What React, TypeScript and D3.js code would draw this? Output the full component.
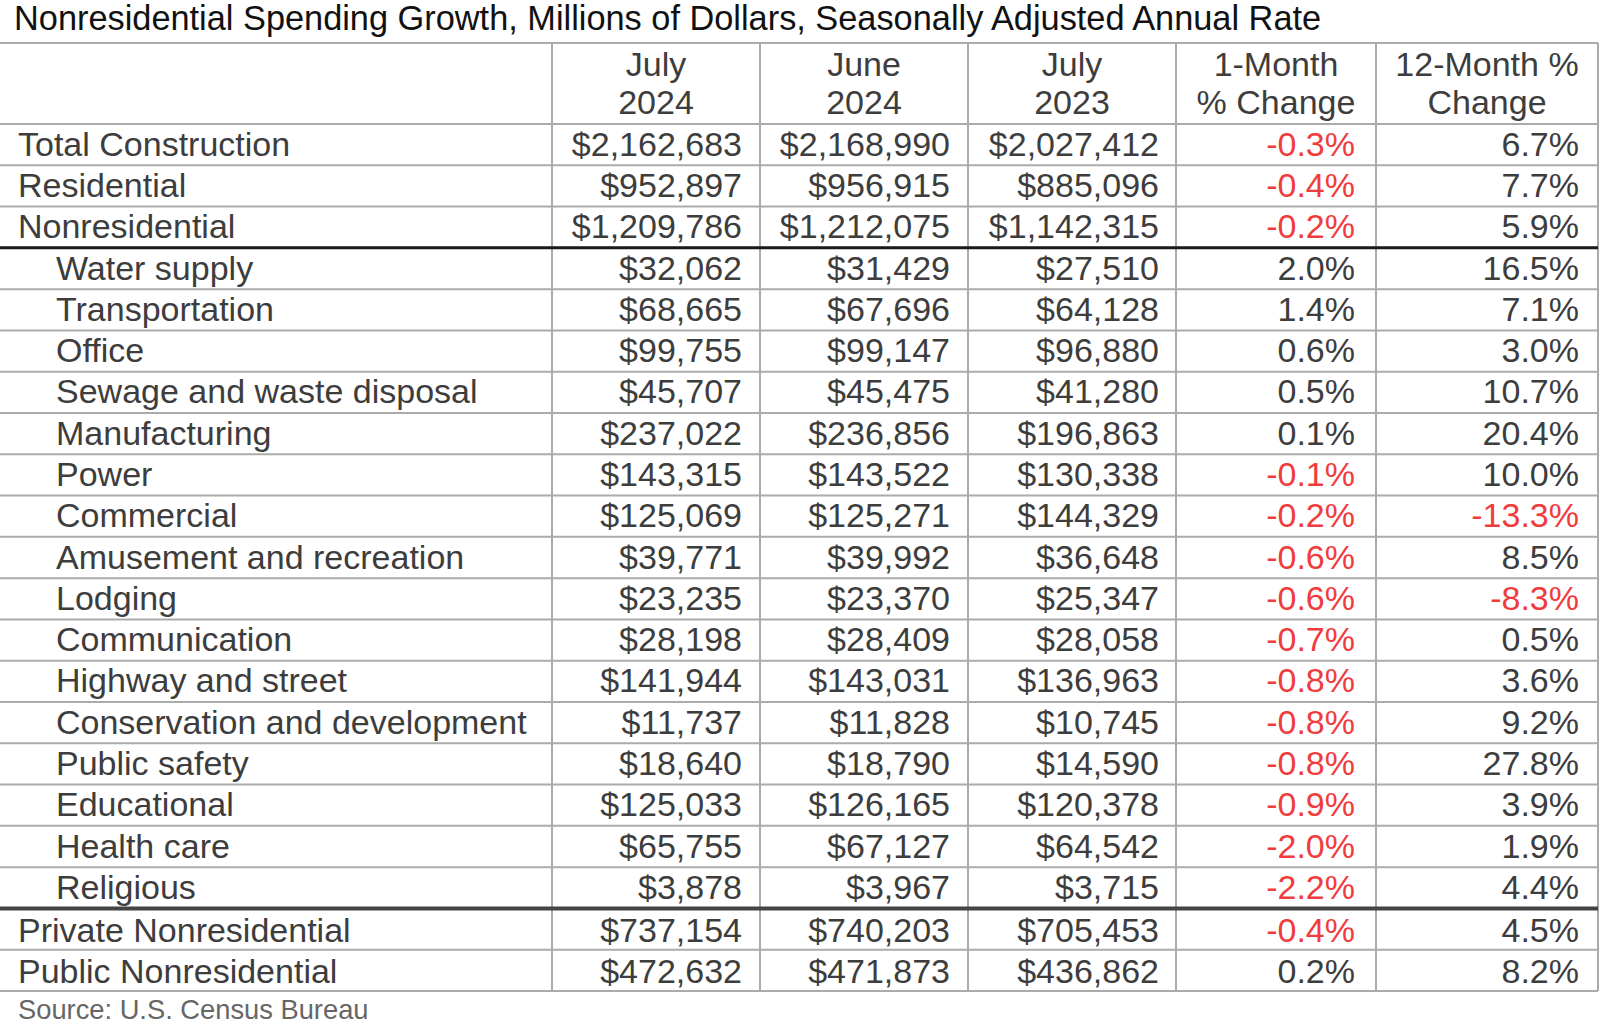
import React from "react";
import * as d3 from "d3";

const title = "Nonresidential Spending Growth, Millions of Dollars, Seasonally Adjusted Annual Rate";
const source = "Source: U.S. Census Bureau";

const headers: string[][] = [
  ["", ""],
  ["July", "2024"],
  ["June", "2024"],
  ["July", "2023"],
  ["1-Month", "% Change"],
  ["12-Month %", "Change"],
];

const categories = [
  "Total Construction",
  "Residential",
  "Nonresidential",
  "Water supply",
  "Transportation",
  "Office",
  "Sewage and waste disposal",
  "Manufacturing",
  "Power",
  "Commercial",
  "Amusement and recreation",
  "Lodging",
  "Communication",
  "Highway and street",
  "Conservation and development",
  "Public safety",
  "Educational",
  "Health care",
  "Religious",
  "Private Nonresidential",
  "Public Nonresidential",
];

const indented = [0, 0, 0, 1, 1, 1, 1, 1, 1, 1, 1, 1, 1, 1, 1, 1, 1, 1, 1, 0, 0];

const july2024 = [2162683, 952897, 1209786, 32062, 68665, 99755, 45707, 237022, 143315, 125069, 39771, 23235, 28198, 141944, 11737, 18640, 125033, 65755, 3878, 737154, 472632];
const june2024 = [2168990, 956915, 1212075, 31429, 67696, 99147, 45475, 236856, 143522, 125271, 39992, 23370, 28409, 143031, 11828, 18790, 126165, 67127, 3967, 740203, 471873];
const july2023 = [2027412, 885096, 1142315, 27510, 64128, 96880, 41280, 196863, 130338, 144329, 36648, 25347, 28058, 136963, 10745, 14590, 120378, 64542, 3715, 705453, 436862];
const oneMonthPct = [-0.3, -0.4, -0.2, 2.0, 1.4, 0.6, 0.5, 0.1, -0.1, -0.2, -0.6, -0.6, -0.7, -0.8, -0.8, -0.8, -0.9, -2.0, -2.2, -0.4, 0.2];
const twelveMonthPct = [6.7, 7.7, 5.9, 16.5, 7.1, 3.0, 10.7, 20.4, 10.0, -13.3, 8.5, -8.3, 0.5, 3.6, 9.2, 27.8, 3.9, 1.9, 4.4, 4.5, 8.2];

// rows after which a heavy separator is drawn
const heavyAfter = [2, 18];

const W = 1600;
const H = 1032;
const FONT = "'Liberation Sans', Arial, Helvetica, sans-serif";
const TEXT = "#3d3d3d";
const RED = "#f03c3c";
const GRID = "#ababab";

const colEdges = [0, 552, 760, 968, 1176, 1376, 1598];
const padRight = [0, 18, 18, 17, 21, 19];

const locale = d3.formatLocale({
  decimal: ".",
  thousands: ",",
  grouping: [3],
  currency: ["$", ""],
  minus: "-",
});

export default function App() {
  const tableTop = 43;
  const headerBottom = 124;
  const tableBottom = 991;

  const y = d3
    .scaleBand<number>()
    .domain(d3.range(categories.length))
    .range([headerBottom, tableBottom])
    .paddingInner(0)
    .paddingOuter(0);

  const money = locale.format("$,");
  const pct = (v: number) => locale.format(".1f")(v) + "%";

  const columns = [july2024, june2024, july2023];
  const pctCols = [oneMonthPct, twelveMonthPct];

  const fs = 34;

  return (
    <svg
      width={W}
      height={H}
      style={{ position: "absolute", left: 0, top: 0, background: "#fff" }}
      fontFamily={FONT}
    >
      <rect x={0} y={0} width={W} height={H} fill="#fff" />
      <text x={14} y={30} fontSize={34.35} fill="#111">
        {title}
      </text>

      {/* header */}
      {headers.map((h, i) =>
        i === 0 ? null : (
          <g key={"h" + i}>
            <text
              x={(colEdges[i] + colEdges[i + 1]) / 2}
              y={76}
              fontSize={fs}
              fill={TEXT}
              textAnchor="middle"
            >
              {h[0]}
            </text>
            <text
              x={(colEdges[i] + colEdges[i + 1]) / 2}
              y={114}
              fontSize={fs}
              fill={TEXT}
              textAnchor="middle"
            >
              {h[1]}
            </text>
          </g>
        )
      )}

      {/* horizontal grid lines */}
      <line x1={0} x2={colEdges[6]} y1={tableTop} y2={tableTop} stroke={GRID} strokeWidth={2} />
      {categories.map((_, i) => (
        <line
          key={"hl" + i}
          x1={0}
          x2={colEdges[6]}
          y1={y(i)!}
          y2={y(i)!}
          stroke={GRID}
          strokeWidth={2}
        />
      ))}
      <line x1={0} x2={colEdges[6]} y1={tableBottom} y2={tableBottom} stroke={GRID} strokeWidth={2} />

      {/* vertical lines */}
      {colEdges.slice(1).map((x, i) => (
        <line key={"vl" + i} x1={x} x2={x} y1={tableTop} y2={tableBottom} stroke={GRID} strokeWidth={2} />
      ))}

      {/* heavy separators */}
      {heavyAfter.map((r, i) => (
        <line
          key={"hv" + i}
          x1={0}
          x2={colEdges[6]}
          y1={y(r)! + y.bandwidth()}
          y2={y(r)! + y.bandwidth()}
          stroke={i === 0 ? "#1a1a1a" : "#444"}
          strokeWidth={i === 0 ? 3 : 4}
        />
      ))}

      {/* rows */}
      {categories.map((c, i) => {
        const base = y(i)! + y.bandwidth() / 2 + (i > heavyAfter[1] ? 13 : 11);
        return (
          <g key={"r" + i}>
            <text x={indented[i] ? 56 : 18} y={base} fontSize={fs} fill={TEXT}>
              {c}
            </text>
            {columns.map((col, j) => (
              <text
                key={"m" + j}
                x={colEdges[j + 2] - padRight[j + 1]}
                y={base}
                fontSize={fs}
                fill={TEXT}
                textAnchor="end"
              >
                {money(col[i])}
              </text>
            ))}
            {pctCols.map((col, j) => (
              <text
                key={"p" + j}
                x={colEdges[j + 5] - padRight[j + 4]}
                y={base}
                fontSize={fs}
                fill={col[i] < 0 ? RED : TEXT}
                textAnchor="end"
              >
                {pct(col[i])}
              </text>
            ))}
          </g>
        );
      })}

      <text x={18} y={1019} fontSize={27.3} fill="#666">
        {source}
      </text>
    </svg>
  );
}
